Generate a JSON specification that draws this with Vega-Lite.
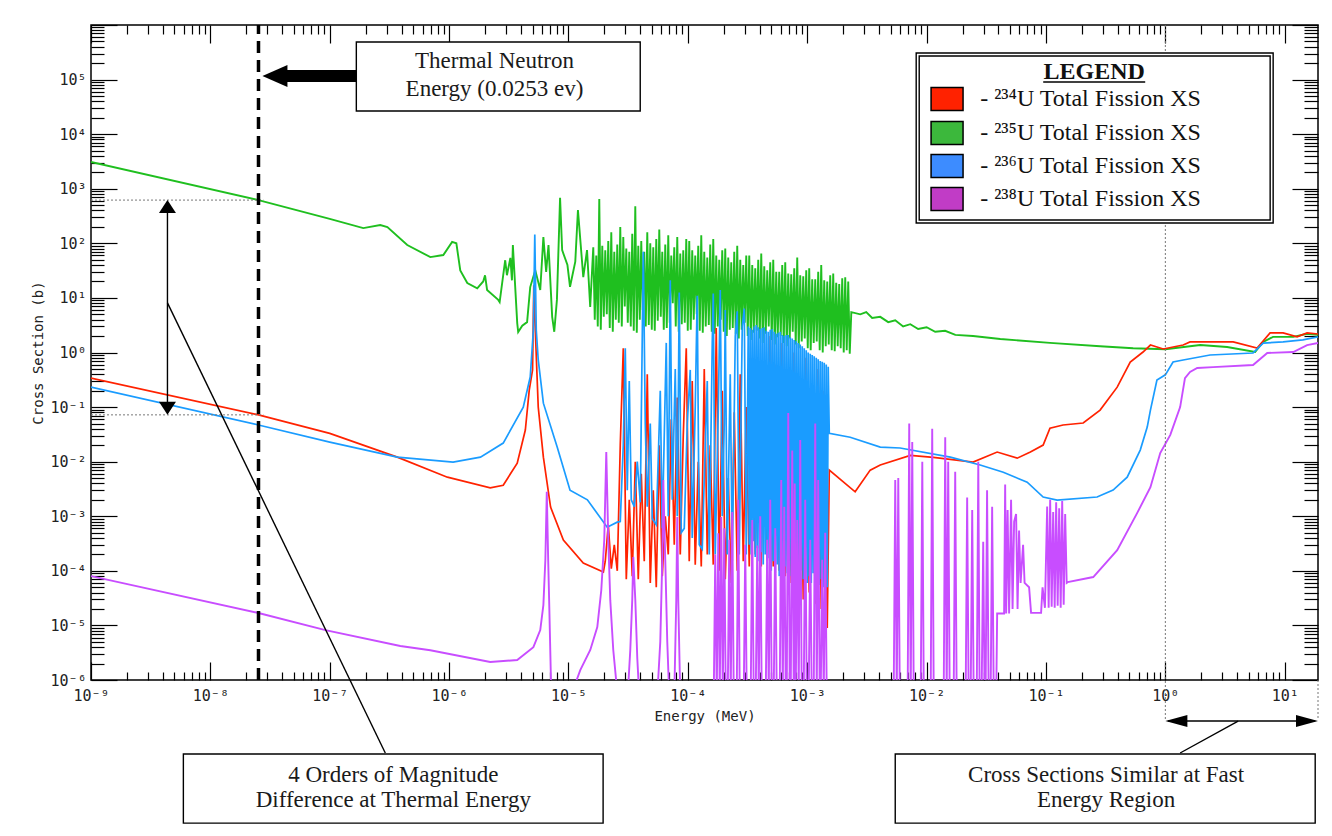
{
"$schema":"https://vega.github.io/schema/vega-lite/v6.json",
"width":1227,"height":655,
"autosize":{"type":"none"},
"padding":{"left":91,"top":25,"right":14,"bottom":156},
"background":"white",
"config":{
 "view":{"stroke":"black","strokeWidth":1.5},
 "axis":{"grid":false,"domain":false,"tickColor":"black","tickWidth":1.2,"labelFont":"DejaVu Sans Mono","labelFontSize":15,"labelColor":"#222","titleFont":"DejaVu Sans Mono","titleFontSize":14,"titleFontWeight":"normal","titleColor":"#222","labelOverlap":false,"labelFlush":false,"labelBound":false}
},
"datasets":{
"u235":[{"E":1e-9,"XS":3100},{"E":2.53e-8,"XS":620},{"E":1e-7,"XS":280},{"E":1.91e-7,"XS":190},{"E":2.65e-7,"XS":216},{"E":3.04e-7,"XS":199},{"E":4.46e-7,"XS":93},{"E":6.96e-7,"XS":56},{"E":8.94e-7,"XS":61},{"E":1.06e-6,"XS":106},{"E":1.15e-6,"XS":100},{"E":1.24e-6,"XS":32},{"E":1.42e-6,"XS":18.7},{"E":1.72e-6,"XS":15},{"E":1.93e-6,"XS":20},{"E":2.0e-6,"XS":26},{"E":2.08e-6,"XS":14},{"E":2.58e-6,"XS":9.2},{"E":2.65e-6,"XS":8.4},{"E":2.95e-6,"XS":49},{"E":3.05e-6,"XS":26},{"E":3.26e-6,"XS":54},{"E":3.36e-6,"XS":21},{"E":3.42e-6,"XS":93},{"E":3.72e-6,"XS":3.46},{"E":3.79e-6,"XS":2.37},{"E":4.1e-6,"XS":3.1},{"E":4.5e-6,"XS":3.6},{"E":4.78e-6,"XS":15.8},{"E":5.27e-6,"XS":32},{"E":5.8e-6,"XS":14},{"E":6.16e-6,"XS":130},{"E":6.5e-6,"XS":30},{"E":6.8e-6,"XS":93},{"E":7.3e-6,"XS":4.5},{"E":7.6e-6,"XS":2.4},{"E":8.0e-6,"XS":9.2},{"E":8.5e-6,"XS":680},{"E":8.85e-6,"XS":75},{"E":9.8e-6,"XS":40},{"E":1.03e-5,"XS":16},{"E":1.14e-5,"XS":46},{"E":1.2e-5,"XS":408},{"E":1.33e-5,"XS":24},{"E":1.43e-5,"XS":75},{"E":1.52e-5,"XS":6.8},
{"E":1.613e-5,"XS":85},{"E":1.66e-5,"XS":4},{"E":1.709e-5,"XS":60},{"E":1.759e-5,"XS":3},{"E":1.811e-5,"XS":650},{"E":1.864e-5,"XS":2.6},{"E":1.919e-5,"XS":90},{"E":1.975e-5,"XS":4.5},{"E":2.033e-5,"XS":75},{"E":2.093e-5,"XS":5},{"E":2.154e-5,"XS":110},{"E":2.217e-5,"XS":2.8},{"E":2.283e-5,"XS":160},{"E":2.35e-5,"XS":2.4},{"E":2.419e-5,"XS":70},{"E":2.49e-5,"XS":4},{"E":2.563e-5,"XS":95},{"E":2.638e-5,"XS":3.5},{"E":2.715e-5,"XS":200},{"E":2.795e-5,"XS":3},{"E":2.877e-5,"XS":130},{"E":2.961e-5,"XS":7},{"E":3.049e-5,"XS":80},{"E":3.138e-5,"XS":3.5},{"E":3.23e-5,"XS":70},{"E":3.325e-5,"XS":3},{"E":3.422e-5,"XS":150},{"E":3.522e-5,"XS":2.5},{"E":3.627e-5,"XS":480},{"E":3.733e-5,"XS":2.3},{"E":3.842e-5,"XS":90},{"E":3.955e-5,"XS":4},{"E":4.071e-5,"XS":110},{"E":4.19e-5,"XS":6},{"E":4.313e-5,"XS":70},{"E":4.439e-5,"XS":3},{"E":4.571e-5,"XS":160},{"E":4.705e-5,"XS":3.2},{"E":4.843e-5,"XS":100},{"E":4.985e-5,"XS":2.6},{"E":5.131e-5,"XS":85},{"E":5.281e-5,"XS":2.5},{"E":5.437e-5,"XS":120},{"E":5.596e-5,"XS":3.8},{"E":5.761e-5,"XS":180},{"E":5.93e-5,"XS":4.5},{"E":6.104e-5,"XS":70},{"E":6.283e-5,"XS":2.6},{"E":6.467e-5,"XS":95},{"E":6.656e-5,"XS":2.8},{"E":6.852e-5,"XS":140},{"E":7.053e-5,"XS":3.5},{"E":7.261e-5,"XS":60},{"E":7.474e-5,"XS":8},{"E":7.693e-5,"XS":85},{"E":7.918e-5,"XS":3},{"E":8.151e-5,"XS":130},{"E":8.39e-5,"XS":2.4},{"E":8.636e-5,"XS":65},{"E":8.889e-5,"XS":3.3},{"E":9.151e-5,"XS":75},{"E":9.419e-5,"XS":3.5},{"E":9.696e-5,"XS":120},{"E":9.98e-5,"XS":2.5},{"E":1.027e-4,"XS":110},{"E":1.057e-4,"XS":2.6},{"E":1.088e-4,"XS":75},{"E":1.12e-4,"XS":4},{"E":1.153e-4,"XS":60},{"E":1.187e-4,"XS":5},{"E":1.222e-4,"XS":90},{"E":1.258e-4,"XS":2.5},{"E":1.295e-4,"XS":140},{"E":1.333e-4,"XS":2.3},{"E":1.372e-4,"XS":70},{"E":1.412e-4,"XS":3},{"E":1.454e-4,"XS":55},{"E":1.497e-4,"XS":3.2},{"E":1.54e-4,"XS":95},{"E":1.585e-4,"XS":2.4},{"E":1.632e-4,"XS":120},{"E":1.68e-4,"XS":2.2},{"E":1.729e-4,"XS":60},{"E":1.78e-4,"XS":3},{"E":1.832e-4,"XS":50},{"E":1.886e-4,"XS":4},{"E":1.941e-4,"XS":75},{"E":1.998e-4,"XS":2.4},{"E":2.057e-4,"XS":80},{"E":2.117e-4,"XS":2},{"E":2.179e-4,"XS":55},{"E":2.243e-4,"XS":2.6},{"E":2.309e-4,"XS":45},{"E":2.377e-4,"XS":2.8},{"E":2.447e-4,"XS":70},{"E":2.519e-4,"XS":2.2},{"E":2.592e-4,"XS":90},{"E":2.668e-4,"XS":1.8},{"E":2.747e-4,"XS":50},{"E":2.827e-4,"XS":2.6},{"E":2.911e-4,"XS":40},{"E":2.996e-4,"XS":3.5},{"E":3.084e-4,"XS":60},{"E":3.174e-4,"XS":2},{"E":3.268e-4,"XS":60},{"E":3.364e-4,"XS":1.7},{"E":3.462e-4,"XS":40},{"E":3.563e-4,"XS":2.3},{"E":3.668e-4,"XS":35},{"E":3.776e-4,"XS":2.5},{"E":3.887e-4,"XS":50},{"E":4.001e-4,"XS":1.8},{"E":4.119e-4,"XS":65},{"E":4.24e-4,"XS":1.5},{"E":4.364e-4,"XS":38},{"E":4.492e-4,"XS":2.2},{"E":4.624e-4,"XS":32},{"E":4.759e-4,"XS":3},{"E":4.899e-4,"XS":45},{"E":5.042e-4,"XS":1.7},{"E":5.191e-4,"XS":50},{"E":5.343e-4,"XS":1.4},{"E":5.5e-4,"XS":30},{"E":5.661e-4,"XS":1.9},{"E":5.828e-4,"XS":30},{"E":5.999e-4,"XS":2},{"E":6.175e-4,"XS":40},{"E":6.356e-4,"XS":1.5},{"E":6.543e-4,"XS":45},{"E":6.735e-4,"XS":1.3},{"E":6.933e-4,"XS":28},{"E":7.136e-4,"XS":1.8},{"E":7.345e-4,"XS":27},{"E":7.56e-4,"XS":2.4},{"E":7.783e-4,"XS":35},{"E":8.011e-4,"XS":1.4},{"E":8.246e-4,"XS":55},{"E":8.488e-4,"XS":1.2},{"E":8.737e-4,"XS":26},{"E":8.993e-4,"XS":1.6},{"E":9.259e-4,"XS":25},{"E":9.53e-4,"XS":1.8},{"E":9.809e-4,"XS":32},{"E":1.01e-3,"XS":1.2},{"E":1.039e-3,"XS":35},{"E":1.069e-3,"XS":1.1},{"E":1.101e-3,"XS":22},{"E":1.133e-3,"XS":1.5},{"E":1.167e-3,"XS":22},{"E":1.201e-3,"XS":1.6},{"E":1.236e-3,"XS":30},{"E":1.272e-3,"XS":1.1},{"E":1.31e-3,"XS":40},{"E":1.348e-3,"XS":1.0},{"E":1.388e-3,"XS":21},{"E":1.429e-3,"XS":1.3},{"E":1.471e-3,"XS":20},{"E":1.514e-3,"XS":1.4},{"E":1.558e-3,"XS":26},{"E":1.604e-3,"XS":1.1},{"E":1.651e-3,"XS":28},{"E":1.699e-3,"XS":1.05},{"E":1.749e-3,"XS":19},{"E":1.8e-3,"XS":1.3},{"E":1.853e-3,"XS":18},{"E":1.907e-3,"XS":1.2},{"E":1.964e-3,"XS":23},{"E":2.022e-3,"XS":1.0},{"E":2.081e-3,"XS":24},{"E":2.142e-3,"XS":1.1},{"E":2.205e-3,"XS":20},{"E":2.27e-3,"XS":0.95},
{"E":2.34e-3,"XS":5.5},{"E":2.78e-3,"XS":5.0},{"E":3.12e-3,"XS":5.5},{"E":3.5e-3,"XS":4.3},{"E":4.09e-3,"XS":4.5},{"E":4.77e-3,"XS":3.6},{"E":5.46e-3,"XS":3.9},{"E":6.36e-3,"XS":3.0},{"E":7.3e-3,"XS":3.3},{"E":8.5e-3,"XS":2.7},{"E":1.0e-2,"XS":2.9},{"E":1.18e-2,"XS":2.4},{"E":1.43e-2,"XS":2.5},{"E":1.74e-2,"XS":2.1},{"E":2.45e-2,"XS":2.0},{"E":4.14e-2,"XS":1.77},{"E":0.108,"XS":1.5},{"E":0.284,"XS":1.3},{"E":0.537,"XS":1.2},{"E":1.0,"XS":1.15},{"E":1.96,"XS":1.37},{"E":3.29,"XS":1.26},{"E":5.65,"XS":1.02},{"E":6.6,"XS":1.56},{"E":7.98,"XS":1.93},{"E":11.8,"XS":1.93},{"E":15.4,"XS":2.2},{"E":19,"XS":2.1}],
"u234":[{"E":1e-9,"XS":0.34},{"E":2.53e-8,"XS":0.072},{"E":1e-7,"XS":0.033},{"E":3.68e-7,"XS":0.0121},{"E":9.67e-7,"XS":0.0052},{"E":2.21e-6,"XS":0.0033},{"E":2.84e-6,"XS":0.0037},{"E":3.72e-6,"XS":0.0094},{"E":4.35e-6,"XS":0.038},{"E":4.69e-6,"XS":0.205},{"E":5.0e-6,"XS":0.48},{"E":5.12e-6,"XS":17},{"E":5.27e-6,"XS":2.58},{"E":5.58e-6,"XS":0.1},{"E":6.16e-6,"XS":0.0121},{"E":7.08e-6,"XS":1.47e-3},{"E":9.06e-6,"XS":3.66e-4},{"E":1.33e-5,"XS":1.39e-4},{"E":1.96e-5,"XS":9.5e-5},
{"E":2.033e-5,"XS":1.5e-4},{"E":2.154e-5,"XS":7e-4},{"E":2.283e-5,"XS":1.1e-4},{"E":2.419e-5,"XS":3e-4},{"E":2.563e-5,"XS":1.0e-4},{"E":2.715e-5,"XS":0.02},{"E":2.877e-5,"XS":1.2},{"E":3.049e-5,"XS":7e-5},{"E":3.23e-5,"XS":2e-3},{"E":3.422e-5,"XS":8e-5},{"E":3.627e-5,"XS":1e-2},{"E":3.842e-5,"XS":7e-5},{"E":4.071e-5,"XS":6e-3},{"E":4.313e-5,"XS":1.5e-4},{"E":4.571e-5,"XS":0.4},{"E":4.843e-5,"XS":6e-5},{"E":5.131e-5,"XS":3e-3},{"E":5.437e-5,"XS":5e-5},{"E":5.761e-5,"XS":0.02},{"E":6.104e-5,"XS":8e-5},{"E":6.467e-5,"XS":1e-3},{"E":6.852e-5,"XS":2e-4},{"E":7.261e-5,"XS":0.06},{"E":7.693e-5,"XS":3e-4},{"E":8.151e-5,"XS":0.15},{"E":8.636e-5,"XS":2e-4},{"E":9.151e-5,"XS":0.03},{"E":9.696e-5,"XS":1.2},{"E":1.027e-4,"XS":1.5e-4},{"E":1.088e-4,"XS":0.3},{"E":1.153e-4,"XS":1.3e-4},{"E":1.222e-4,"XS":0.01},{"E":1.295e-4,"XS":1.2e-4},{"E":1.372e-4,"XS":0.5},{"E":1.454e-4,"XS":2e-4},{"E":1.54e-4,"XS":0.02},{"E":1.632e-4,"XS":1.3e-4},{"E":1.729e-4,"XS":2.8},{"E":1.832e-4,"XS":1e-4},{"E":1.941e-4,"XS":0.2},{"E":2.057e-4,"XS":7e-5},{"E":2.179e-4,"XS":0.005},{"E":2.309e-4,"XS":6e-5},{"E":2.447e-4,"XS":0.08},{"E":2.592e-4,"XS":1e-4},{"E":2.747e-4,"XS":0.4},{"E":2.911e-4,"XS":1.5e-4},{"E":3.084e-4,"XS":0.1},{"E":3.268e-4,"XS":1.2e-4},{"E":3.462e-4,"XS":0.8},{"E":3.668e-4,"XS":2e-4},{"E":3.887e-4,"XS":0.05},{"E":4.119e-4,"XS":1.2e-4},{"E":4.364e-4,"XS":0.3},{"E":4.624e-4,"XS":1.5e-4},{"E":4.899e-4,"XS":2.0},{"E":5.191e-4,"XS":1.2e-4},{"E":5.5e-4,"XS":0.6},{"E":5.828e-4,"XS":1e-4},{"E":6.175e-4,"XS":1.5},{"E":6.543e-4,"XS":8e-5},{"E":6.933e-4,"XS":0.3},{"E":7.345e-4,"XS":6e-5},{"E":7.783e-4,"XS":1.0},{"E":8.246e-4,"XS":5e-5},{"E":8.737e-4,"XS":0.2},{"E":9.259e-4,"XS":3e-5},{"E":9.809e-4,"XS":0.8},{"E":1.039e-3,"XS":4e-5},{"E":1.101e-3,"XS":0.1},{"E":1.167e-3,"XS":2.5e-5},{"E":1.236e-3,"XS":0.5},{"E":1.31e-3,"XS":2e-5},{"E":1.388e-3,"XS":0.2},{"E":1.471e-3,"XS":9e-6},
{"E":1.53e-3,"XS":7e-3},{"E":2.52e-3,"XS":2.8e-3},{"E":3.37e-3,"XS":7e-3},{"E":4.09e-3,"XS":8.7e-3},{"E":7.3e-3,"XS":0.013},{"E":1.14e-2,"XS":0.012},{"E":2.45e-2,"XS":0.0098},{"E":3.9e-2,"XS":0.015},{"E":5.74e-2,"XS":0.0116},{"E":7.4e-2,"XS":0.015},{"E":9.47e-2,"XS":0.0201},{"E":0.108,"XS":0.041},{"E":0.139,"XS":0.047},{"E":0.205,"XS":0.051},{"E":0.284,"XS":0.088},{"E":0.395,"XS":0.232},{"E":0.508,"XS":0.67},{"E":0.65,"XS":1.02},{"E":0.75,"XS":1.37},{"E":0.96,"XS":1.16},{"E":1.41,"XS":1.37},{"E":1.61,"XS":1.56},{"E":3.7,"XS":1.56},{"E":5.87,"XS":1.21},{"E":7.54,"XS":2.28},{"E":9.7,"XS":2.28},{"E":12.7,"XS":1.93},{"E":15.4,"XS":2.28},{"E":19,"XS":2.18}],
"u236":[{"E":1e-9,"XS":0.232},{"E":2.53e-8,"XS":0.047},{"E":1e-7,"XS":0.0228},{"E":3.68e-7,"XS":0.0121},{"E":1.08e-6,"XS":0.0098},{"E":1.83e-6,"XS":0.0121},{"E":2.84e-6,"XS":0.0219},{"E":4.18e-6,"XS":0.1},{"E":4.78e-6,"XS":0.355},{"E":5.08e-6,"XS":2.58},{"E":5.22e-6,"XS":145},{"E":5.37e-6,"XS":2.58},{"E":5.58e-6,"XS":0.73},{"E":6.16e-6,"XS":0.118},{"E":8.04e-6,"XS":0.0185},{"E":1.03e-5,"XS":3.0e-3},{"E":1.44e-5,"XS":2.0e-3},{"E":2.11e-5,"XS":6.3e-4},{"E":2.56e-5,"XS":7.8e-4},
{"E":2.715e-5,"XS":8e-4},{"E":2.877e-5,"XS":0.02},{"E":2.99e-5,"XS":1.2},{"E":3.108e-5,"XS":3e-3},{"E":3.23e-5,"XS":0.3},{"E":3.357e-5,"XS":2e-3},{"E":3.557e-5,"XS":1.5e-3},{"E":3.77e-5,"XS":0.01},{"E":3.994e-5,"XS":1.8e-3},{"E":4.232e-5,"XS":70},{"E":4.397e-5,"XS":0.05},{"E":4.571e-5,"XS":1.5e-3},{"E":4.843e-5,"XS":0.05},{"E":5.033e-5,"XS":9e-4},{"E":5.437e-5,"XS":7e-4},{"E":5.873e-5,"XS":0.2},{"E":6.104e-5,"XS":6e-4},{"E":6.593e-5,"XS":1.5},{"E":6.852e-5,"XS":1e-3},{"E":7.122e-5,"XS":21},{"E":7.403e-5,"XS":2e-3},{"E":7.843e-5,"XS":0.5},{"E":8.151e-5,"XS":1e-3},{"E":8.472e-5,"XS":12.5},{"E":8.804e-5,"XS":5e-4},{"E":9.329e-5,"XS":6e-4},{"E":9.885e-5,"XS":0.05},{"E":1.047e-4,"XS":0.48},{"E":1.088e-4,"XS":4e-4},{"E":1.153e-4,"XS":0.1},{"E":1.198e-4,"XS":11},{"E":1.246e-4,"XS":3e-4},{"E":1.32e-4,"XS":2.5e-4},{"E":1.399e-4,"XS":0.02},{"E":1.454e-4,"XS":0.3},{"E":1.511e-4,"XS":2e-4},{"E":1.601e-4,"XS":1.5},{"E":1.632e-4,"XS":12},{"E":1.696e-4,"XS":2e-4},{"E":1.797e-4,"XS":0.08},{"E":1.868e-4,"XS":14},{"E":1.941e-4,"XS":1e-3},{"E":2.018e-4,"XS":0.05},{"E":2.057e-4,"XS":6},{"E":2.137e-4,"XS":2e-4},{"E":2.265e-4,"XS":0.4},{"E":2.354e-4,"XS":1.5e-4},{"E":2.495e-4,"XS":2},{"E":2.592e-4,"XS":5.7},{"E":2.694e-4,"XS":2e-4},{"E":2.855e-4,"XS":3},{"E":2.968e-4,"XS":6.4},{"E":3.084e-4,"XS":2e-4},
{"E":3.206e-4,"XS":3.0},{"E":3.268e-4,"XS":3e-4},{"E":3.332e-4,"XS":2.8},{"E":3.397e-4,"XS":2e-4},{"E":3.462e-4,"XS":2.6},{"E":3.53e-4,"XS":3.5e-4},{"E":3.598e-4,"XS":3.0},{"E":3.668e-4,"XS":1.8e-4},{"E":3.74e-4,"XS":3.2},{"E":3.813e-4,"XS":2.6e-4},{"E":3.887e-4,"XS":2.9},{"E":3.963e-4,"XS":1.5e-4},{"E":4.04e-4,"XS":2.7},{"E":4.119e-4,"XS":2.2e-4},{"E":4.199e-4,"XS":2.8},{"E":4.281e-4,"XS":1.3e-4},{"E":4.364e-4,"XS":2.9},{"E":4.449e-4,"XS":2e-4},{"E":4.535e-4,"XS":2.5},{"E":4.624e-4,"XS":1.1e-4},{"E":4.714e-4,"XS":2.4},{"E":4.806e-4,"XS":1.7e-4},{"E":4.899e-4,"XS":2.6},{"E":4.995e-4,"XS":1e-4},{"E":5.092e-4,"XS":2.7},{"E":5.191e-4,"XS":1.5e-4},{"E":5.292e-4,"XS":2.4},{"E":5.395e-4,"XS":9e-5},{"E":5.5e-4,"XS":2.2},{"E":5.607e-4,"XS":1.3e-4},{"E":5.716e-4,"XS":2.3},{"E":5.828e-4,"XS":8e-5},{"E":5.941e-4,"XS":2.4},{"E":6.057e-4,"XS":1.1e-4},{"E":6.175e-4,"XS":2.1},{"E":6.295e-4,"XS":7e-5},{"E":6.417e-4,"XS":2.0},{"E":6.543e-4,"XS":1.2e-4},{"E":6.67e-4,"XS":2.1},{"E":6.8e-4,"XS":9e-5},{"E":6.933e-4,"XS":2.1},{"E":7.068e-4,"XS":1.3e-4},{"E":7.205e-4,"XS":1.9},{"E":7.345e-4,"XS":8e-5},{"E":7.488e-4,"XS":1.8},{"E":7.634e-4,"XS":1e-4},{"E":7.783e-4,"XS":1.7},{"E":7.935e-4,"XS":7e-5},{"E":8.089e-4,"XS":1.6},{"E":8.246e-4,"XS":1.1e-4},{"E":8.407e-4,"XS":1.5},{"E":8.571e-4,"XS":8e-5},{"E":8.737e-4,"XS":1.4},{"E":8.907e-4,"XS":1e-4},{"E":9.081e-4,"XS":1.3},{"E":9.259e-4,"XS":7e-5},{"E":9.438e-4,"XS":1.2},{"E":9.622e-4,"XS":9e-5},{"E":9.809e-4,"XS":1.1},{"E":1.0e-3,"XS":6e-5},{"E":1.019e-3,"XS":1.0},{"E":1.039e-3,"XS":8e-5},{"E":1.06e-3,"XS":0.95},{"E":1.081e-3,"XS":6e-5},{"E":1.101e-3,"XS":0.9},{"E":1.122e-3,"XS":9e-5},{"E":1.144e-3,"XS":0.85},{"E":1.167e-3,"XS":6e-5},{"E":1.19e-3,"XS":0.8},{"E":1.213e-3,"XS":8e-5},{"E":1.236e-3,"XS":0.75},{"E":1.26e-3,"XS":5.5e-5},{"E":1.285e-3,"XS":0.7},{"E":1.31e-3,"XS":7e-5},{"E":1.335e-3,"XS":0.68},{"E":1.361e-3,"XS":5e-5},{"E":1.388e-3,"XS":0.65},{"E":1.415e-3,"XS":6e-5},{"E":1.443e-3,"XS":0.6},{"E":1.471e-3,"XS":5e-5},{"E":1.499e-3,"XS":0.55},
{"E":1.53e-3,"XS":0.033},{"E":2.29e-3,"XS":0.028},{"E":4.09e-3,"XS":0.0185},{"E":6.0e-3,"XS":0.0178},{"E":1.58e-2,"XS":0.0121},{"E":2.81e-2,"XS":8.7e-3},{"E":4.39e-2,"XS":6.4e-3},{"E":6.96e-2,"XS":4.2e-3},{"E":9.47e-2,"XS":2.25e-3},{"E":0.124,"XS":1.98e-3},{"E":0.268,"XS":2.25e-3},{"E":0.365,"XS":3.02e-3},{"E":0.479,"XS":5.2e-3},{"E":0.616,"XS":0.0163},{"E":0.705,"XS":0.043},{"E":0.75,"XS":0.088},{"E":0.85,"XS":0.312},{"E":1.0,"XS":0.39},{"E":1.16,"XS":0.67},{"E":1.41,"XS":0.73},{"E":2.37,"XS":0.9},{"E":5.43,"XS":0.98},{"E":6.6,"XS":1.49},{"E":9.7,"XS":1.56},{"E":14.2,"XS":1.7},{"E":19,"XS":1.93}],
"u238":[{"E":1e-9,"XS":8.0e-5},{"E":2.53e-8,"XS":1.69e-5},{"E":9.2e-8,"XS":8.2e-6},{"E":3.9e-7,"XS":4.2e-6},{"E":6.96e-7,"XS":3.5e-6},{"E":2.21e-6,"XS":2.14e-6},{"E":3.72e-6,"XS":2.32e-6},{"E":5.08e-6,"XS":4.0e-6},{"E":5.8e-6,"XS":8.2e-6},{"E":6.16e-6,"XS":2.36e-5},{"E":6.4e-6,"XS":1.58e-4},{"E":6.58e-6,"XS":2.8e-3},{"E":6.76e-6,"XS":1.58e-4},{"E":6.9e-6,"XS":2.36e-5},{"E":7.18e-6,"XS":5e-7},
{"E":1.076e-5,"XS":6e-7},{"E":1.255e-5,"XS":1.52e-6},{"E":1.522e-5,"XS":3.55e-6},{"E":1.743e-5,"XS":9.3e-6},{"E":1.883e-5,"XS":4.45e-5},{"E":1.994e-5,"XS":3.7e-4},{"E":2.073e-5,"XS":0.015},{"E":2.154e-5,"XS":3.7e-4},{"E":2.239e-5,"XS":2.9e-5},{"E":2.372e-5,"XS":3.55e-6},{"E":2.563e-5,"XS":6e-7},{"E":3.168e-5,"XS":8e-7},{"E":3.293e-5,"XS":3.55e-6},{"E":3.422e-5,"XS":3e-5},{"E":3.489e-5,"XS":1.8e-4},{"E":3.627e-5,"XS":3e-5},{"E":3.77e-5,"XS":2.5e-6},{"E":3.917e-5,"XS":5e-7},{"E":5.54e-5,"XS":5e-7},{"E":5.873e-5,"XS":5e-6},{"E":6.104e-5,"XS":1.6e-4},{"E":6.223e-5,"XS":4.6e-3},{"E":6.467e-5,"XS":1.6e-4},{"E":6.722e-5,"XS":5e-6},{"E":6.987e-5,"XS":5e-7},{"E":7.693e-5,"XS":5e-7},{"E":7.995e-5,"XS":2.9e-5},{"E":8.151e-5,"XS":9.7e-4},{"E":8.31e-5,"XS":2.9e-5},{"E":8.636e-5,"XS":5e-7},{"E":1.648e-4,"XS":5e-7},{"E":1.696e-4,"XS":2e-4},{"E":1.746e-4,"XS":5e-7},{"E":1.798e-4,"XS":4.9e-4},{"E":1.85e-4,"XS":5e-7},{"E":1.904e-4,"XS":9.7e-4},{"E":1.961e-4,"XS":5e-7},{"E":2.018e-4,"XS":6e-4},{"E":2.077e-4,"XS":5e-7},{"E":2.159e-4,"XS":5e-7},{"E":2.222e-4,"XS":3.7e-4},{"E":2.287e-4,"XS":5e-7},{"E":2.354e-4,"XS":1.2e-3},{"E":2.424e-4,"XS":5e-7},{"E":2.568e-4,"XS":5e-7},{"E":2.643e-4,"XS":2e-3},{"E":2.72e-4,"XS":5e-7},{"E":2.939e-4,"XS":5e-7},{"E":3.025e-4,"XS":3e-4},{"E":3.113e-4,"XS":5e-7},{"E":3.363e-4,"XS":5e-7},{"E":3.462e-4,"XS":8.5e-4},{"E":3.563e-4,"XS":5e-7},{"E":3.704e-4,"XS":5e-7},{"E":3.813e-4,"XS":2.9e-4},{"E":3.925e-4,"XS":5e-7},{"E":4.04e-4,"XS":1e-3},{"E":4.157e-4,"XS":5e-7},{"E":4.493e-4,"XS":5e-7},{"E":4.624e-4,"XS":3.7e-4},{"E":4.76e-4,"XS":5e-7},{"E":4.899e-4,"XS":2e-3},{"E":5.042e-4,"XS":5e-7},{"E":5.241e-4,"XS":5e-7},{"E":5.395e-4,"XS":6e-4},{"E":5.554e-4,"XS":5e-7},{"E":5.885e-4,"XS":5e-7},{"E":6.057e-4,"XS":4.6e-3},{"E":6.234e-4,"XS":5e-7},{"E":6.417e-4,"XS":1.5e-3},{"E":6.607e-4,"XS":5e-7},{"E":6.735e-4,"XS":5e-7},{"E":6.933e-4,"XS":0.078},{"E":7.136e-4,"XS":5e-7},{"E":7.275e-4,"XS":5e-7},{"E":7.488e-4,"XS":0.016},{"E":7.708e-4,"XS":5e-7},{"E":7.858e-4,"XS":4e-3},{"E":8.012e-4,"XS":5e-7},{"E":8.246e-4,"XS":8.5e-4},{"E":8.488e-4,"XS":5e-7},{"E":8.737e-4,"XS":0.025},{"E":8.99e-4,"XS":5e-7},{"E":9.348e-4,"XS":5e-7},{"E":9.622e-4,"XS":2e-3},{"E":9.904e-4,"XS":5e-7},{"E":1.029e-3,"XS":5e-7},{"E":1.06e-3,"XS":3.7e-4},{"E":1.091e-3,"XS":5e-7},{"E":1.134e-3,"XS":5e-7},{"E":1.167e-3,"XS":0.05},{"E":1.201e-3,"XS":5e-7},{"E":1.236e-3,"XS":4.6e-3},{"E":1.272e-3,"XS":5e-7},{"E":1.297e-3,"XS":5e-7},{"E":1.335e-3,"XS":1.6e-4},{"E":1.375e-3,"XS":5e-7},{"E":1.415e-3,"XS":5e-4},{"E":1.457e-3,"XS":5e-7},
{"E":5.3e-3,"XS":5e-7},{"E":5.46e-3,"XS":4.6e-3},{"E":5.62e-3,"XS":5e-7},{"E":5.79e-3,"XS":5e-3},{"E":5.96e-3,"XS":5e-7},{"E":6.94e-3,"XS":5e-7},{"E":7.15e-3,"XS":0.05},{"E":7.36e-3,"XS":5e-7},{"E":7.58e-3,"XS":0.023},{"E":7.8e-3,"XS":5e-7},{"E":8.93e-3,"XS":5e-7},{"E":9.2e-3,"XS":0.01},{"E":9.47e-3,"XS":5e-7},{"E":1.082e-2,"XS":5e-7},{"E":1.114e-2,"XS":0.04},{"E":1.147e-2,"XS":5e-7},{"E":1.391e-2,"XS":5e-7},{"E":1.432e-2,"XS":0.028},{"E":1.473e-2,"XS":5e-7},{"E":1.517e-2,"XS":0.01},{"E":1.561e-2,"XS":5e-7},{"E":1.686e-2,"XS":5e-7},{"E":1.736e-2,"XS":6.5e-3},{"E":1.786e-2,"XS":5e-7},{"E":2.124e-2,"XS":5e-7},{"E":2.186e-2,"XS":2.2e-3},{"E":2.25e-2,"XS":5e-7},{"E":2.34e-2,"XS":5e-7},{"E":2.41e-2,"XS":1.3e-3},{"E":2.48e-2,"XS":5e-7},{"E":2.63e-2,"XS":5e-7},{"E":2.71e-2,"XS":0.01},{"E":2.78e-2,"XS":5e-7},{"E":2.89e-2,"XS":5e-7},{"E":2.98e-2,"XS":3.4e-4},{"E":3.06e-2,"XS":5e-7},{"E":3.12e-2,"XS":5e-7},{"E":3.21e-2,"XS":3e-3},{"E":3.31e-2,"XS":5e-7},{"E":3.44e-2,"XS":5e-7},{"E":3.54e-2,"XS":1.5e-3},{"E":3.65e-2,"XS":5e-7},{"E":3.83e-2,"XS":5e-7},{"E":3.9e-2,"XS":1.65e-5},{"E":4.46e-2,"XS":1.65e-5},{"E":4.55e-2,"XS":3.8e-3},{"E":4.64e-2,"XS":1.65e-5},{"E":4.77e-2,"XS":1.3e-3},{"E":4.91e-2,"XS":1.65e-5},{"E":5.1e-2,"XS":2e-3},{"E":5.25e-2,"XS":2e-5},{"E":5.41e-2,"XS":8e-4},{"E":5.62e-2,"XS":1.1e-3},{"E":5.78e-2,"XS":2e-5},{"E":5.95e-2,"XS":5.5e-4},{"E":6.13e-2,"XS":6e-5},{"E":6.43e-2,"XS":3e-4},{"E":6.62e-2,"XS":6e-5},{"E":7.22e-2,"XS":5e-5},{"E":7.5e-2,"XS":1.7e-5},{"E":9.1e-2,"XS":1.7e-5},{"E":9.36e-2,"XS":5e-5},{"E":9.8e-2,"XS":2.1e-5},{"E":0.1023,"XS":1.5e-3},{"E":0.1053,"XS":2.1e-5},{"E":0.1084,"XS":2.0e-3},{"E":0.1116,"XS":2.2e-5},{"E":0.1149,"XS":1.2e-3},{"E":0.1183,"XS":2.1e-5},{"E":0.1217,"XS":1.8e-3},{"E":0.1253,"XS":2.3e-5},{"E":0.129,"XS":1.4e-3},{"E":0.1328,"XS":2.1e-5},{"E":0.1367,"XS":1.9e-3},{"E":0.1407,"XS":2.4e-5},{"E":0.1448,"XS":1.1e-3},{"E":0.1491,"XS":6e-5},{"E":0.152,"XS":6.2e-5},{"E":0.249,"XS":7.7e-5},{"E":0.395,"XS":2.4e-4},{"E":0.58,"XS":1.14e-3},{"E":0.75,"XS":3.4e-3},{"E":0.906,"XS":0.0144},{"E":1.1,"XS":0.031},{"E":1.33,"XS":0.1},{"E":1.46,"XS":0.34},{"E":1.61,"XS":0.44},{"E":1.85,"XS":0.52},{"E":2.51,"XS":0.54},{"E":5.43,"XS":0.59},{"E":7.14,"XS":0.98},{"E":11.8,"XS":1.02},{"E":15.4,"XS":1.37},{"E":19,"XS":1.49}]
},
"resolve":{"axis":{"x":"independent","y":"independent"}},
"layer":[
{"data":{"name":"u235"},"mark":{"type":"line","clip":true,"strokeWidth":1.9},
 "encoding":{
  "x":{"field":"E","type":"quantitative","scale":{"type":"log","domain":[1e-9,19],"nice":false},
   "axis":{"orient":"bottom","values":[1e-9,2e-9,3e-9,4e-9,5e-9,6e-9,7e-9,8e-9,9e-9,1e-8,2e-8,3e-8,4e-8,5e-8,6e-8,7e-8,8e-8,9e-8,1e-7,2e-7,3e-7,4e-7,5e-7,6e-7,7e-7,8e-7,9e-7,1e-6,2e-6,3e-6,4e-6,5e-6,6e-6,7e-6,8e-6,9e-6,1e-5,2e-5,3e-5,4e-5,5e-5,6e-5,7e-5,8e-5,9e-5,1e-4,2e-4,3e-4,4e-4,5e-4,6e-4,7e-4,8e-4,9e-4,1e-3,2e-3,3e-3,4e-3,5e-3,6e-3,7e-3,8e-3,9e-3,0.01,0.02,0.03,0.04,0.05,0.06,0.07,0.08,0.09,0.1,0.2,0.3,0.4,0.5,0.6,0.7,0.8,0.9,1,2,3,4,5,6,7,8,9,10],
    "labelExpr":"abs(log(datum.value)/LN10-round(log(datum.value)/LN10))<0.02 ? '10'+(round(log(datum.value)/LN10)<0?'⁻':'')+['⁰','¹','²','³','⁴','⁵','⁶','⁷','⁸','⁹'][abs(round(log(datum.value)/LN10))] : ''",
    "tickSize":{"condition":{"test":"abs(log(datum.value)/LN10-round(log(datum.value)/LN10))<0.02","value":-18},"value":-8},
    "labelPadding":26,"title":"Energy (MeV)","titlePadding":-4}},
  "y":{"field":"XS","type":"quantitative","scale":{"type":"log","domain":[1e-6,1e6],"nice":false},
   "axis":{"orient":"left","values":[1e-6,2e-6,3e-6,4e-6,5e-6,6e-6,7e-6,8e-6,9e-6,1e-5,2e-5,3e-5,4e-5,5e-5,6e-5,7e-5,8e-5,9e-5,1e-4,2e-4,3e-4,4e-4,5e-4,6e-4,7e-4,8e-4,9e-4,1e-3,2e-3,3e-3,4e-3,5e-3,6e-3,7e-3,8e-3,9e-3,0.01,0.02,0.03,0.04,0.05,0.06,0.07,0.08,0.09,0.1,0.2,0.3,0.4,0.5,0.6,0.7,0.8,0.9,1,2,3,4,5,6,7,8,9,10,20,30,40,50,60,70,80,90,100,200,300,400,500,600,700,800,900,1000,2000,3000,4000,5000,6000,7000,8000,9000,10000,20000,30000,40000,50000,60000,70000,80000,90000,100000,200000,300000,400000,500000,600000,700000,800000,900000,1000000],
    "labelExpr":"abs(log(datum.value)/LN10-round(log(datum.value)/LN10))<0.02 && round(log(datum.value)/LN10)<6 ? '10'+(round(log(datum.value)/LN10)<0?'⁻':'')+['⁰','¹','²','³','⁴','⁵','⁶','⁷','⁸','⁹'][abs(round(log(datum.value)/LN10))] : ''",
    "tickSize":{"condition":{"test":"abs(log(datum.value)/LN10-round(log(datum.value)/LN10))<0.02","value":-26},"value":-13},
    "labelPadding":31,"title":"Cross Section (b)","titlePadding":4}},
  "color":{"datum":"²³⁵U","type":"nominal","scale":{"domain":["²³⁴U","²³⁵U","²³⁶U","²³⁸U"],"range":["#ff2200","#1fbf1f","#1a9cff","#c84dff"]},"legend":null}
 }},
{"data":{"name":"u234"},"mark":{"type":"line","clip":true,"strokeWidth":1.7},
 "encoding":{
  "x":{"field":"E","type":"quantitative","scale":{"type":"log","domain":[1e-9,19],"nice":false},
   "axis":{"orient":"top","values":[1e-9,2e-9,3e-9,4e-9,5e-9,6e-9,7e-9,8e-9,9e-9,1e-8,2e-8,3e-8,4e-8,5e-8,6e-8,7e-8,8e-8,9e-8,1e-7,2e-7,3e-7,4e-7,5e-7,6e-7,7e-7,8e-7,9e-7,1e-6,2e-6,3e-6,4e-6,5e-6,6e-6,7e-6,8e-6,9e-6,1e-5,2e-5,3e-5,4e-5,5e-5,6e-5,7e-5,8e-5,9e-5,1e-4,2e-4,3e-4,4e-4,5e-4,6e-4,7e-4,8e-4,9e-4,1e-3,2e-3,3e-3,4e-3,5e-3,6e-3,7e-3,8e-3,9e-3,0.01,0.02,0.03,0.04,0.05,0.06,0.07,0.08,0.09,0.1,0.2,0.3,0.4,0.5,0.6,0.7,0.8,0.9,1,2,3,4,5,6,7,8,9,10],
    "labels":false,"title":null,
    "tickSize":{"condition":{"test":"abs(log(datum.value)/LN10-round(log(datum.value)/LN10))<0.02","value":-18},"value":-9}}},
  "y":{"field":"XS","type":"quantitative","scale":{"type":"log","domain":[1e-6,1e6],"nice":false},
   "axis":{"orient":"right","values":[1e-6,2e-6,3e-6,4e-6,5e-6,6e-6,7e-6,8e-6,9e-6,1e-5,2e-5,3e-5,4e-5,5e-5,6e-5,7e-5,8e-5,9e-5,1e-4,2e-4,3e-4,4e-4,5e-4,6e-4,7e-4,8e-4,9e-4,1e-3,2e-3,3e-3,4e-3,5e-3,6e-3,7e-3,8e-3,9e-3,0.01,0.02,0.03,0.04,0.05,0.06,0.07,0.08,0.09,0.1,0.2,0.3,0.4,0.5,0.6,0.7,0.8,0.9,1,2,3,4,5,6,7,8,9,10,20,30,40,50,60,70,80,90,100,200,300,400,500,600,700,800,900,1000,2000,3000,4000,5000,6000,7000,8000,9000,10000,20000,30000,40000,50000,60000,70000,80000,90000,100000,200000,300000,400000,500000,600000,700000,800000,900000,1000000],
    "labels":false,"title":null,
    "tickSize":{"condition":{"test":"abs(log(datum.value)/LN10-round(log(datum.value)/LN10))<0.02","value":-26},"value":-14}}},
  "color":{"datum":"²³⁴U","type":"nominal","legend":null}
 }},
{"data":{"name":"u236"},"mark":{"type":"line","clip":true,"strokeWidth":1.7},
 "encoding":{
  "x":{"field":"E","type":"quantitative","scale":{"type":"log","domain":[1e-9,19],"nice":false},"axis":null},
  "y":{"field":"XS","type":"quantitative","scale":{"type":"log","domain":[1e-6,1e6],"nice":false},"axis":null},
  "color":{"datum":"²³⁶U","type":"nominal","legend":null}
 }},
{"data":{"name":"u238"},"mark":{"type":"line","clip":true,"strokeWidth":1.9},
 "encoding":{
  "x":{"field":"E","type":"quantitative","scale":{"type":"log","domain":[1e-9,19],"nice":false},"axis":null},
  "y":{"field":"XS","type":"quantitative","scale":{"type":"log","domain":[1e-6,1e6],"nice":false},"axis":null},
  "color":{"datum":"²³⁸U","type":"nominal","legend":null}
 }},
{"data":{"values":[{"x":1e-9,"x2":2.78e-8,"y":620,"y2":620},{"x":1e-9,"x2":2.78e-8,"y":0.072,"y2":0.072},{"x":1,"x2":1,"y":1e6,"y2":1.85e-7},{"x":19,"x2":19,"y":1e-6,"y2":1.85e-7}]},
 "mark":{"type":"rule","color":"#777","strokeWidth":1,"strokeDash":[2,2]},
 "encoding":{
  "x":{"field":"x","type":"quantitative","scale":{"type":"log","domain":[1e-9,19],"nice":false},"axis":null},
  "x2":{"field":"x2"},
  "y":{"field":"y","type":"quantitative","scale":{"type":"log","domain":[1e-6,1e6],"nice":false},"axis":null},
  "y2":{"field":"y2"}
 }},
{"data":{"values":[{"E":2.53e-8,"lo":1e-6,"hi":1e6}]},
 "mark":{"type":"rule","color":"black","strokeWidth":3.5,"strokeDash":[12,7]},
 "encoding":{
  "x":{"field":"E","type":"quantitative","scale":{"type":"log","domain":[1e-9,19],"nice":false},"axis":null},
  "y":{"field":"lo","type":"quantitative","scale":{"type":"log","domain":[1e-6,1e6],"nice":false},"axis":null},
  "y2":{"field":"hi"}
 }},
{"data":{"values":[{"x":4.37e-9,"x2":4.37e-9,"y":560,"y2":0.08},{"x":4.37e-9,"x2":2.92e-7,"y":8.1,"y2":4.6e-8},{"x":1.05,"x2":18,"y":1.77e-7,"y2":1.77e-7},{"x":4.07,"x2":1.33,"y":1.77e-7,"y2":4.6e-8}]},
 "mark":{"type":"rule","color":"black","strokeWidth":1.4},
 "encoding":{
  "x":{"field":"x","type":"quantitative","scale":{"type":"log","domain":[1e-9,19],"nice":false},"axis":null},
  "x2":{"field":"x2"},
  "y":{"field":"y","type":"quantitative","scale":{"type":"log","domain":[1e-6,1e6],"nice":false},"axis":null},
  "y2":{"field":"y2"}
 }},
{"data":{"values":[{"x":4.2e-8,"x2":1.67e-7,"y":1.16e5,"y2":1.16e5}]},
 "mark":{"type":"rule","color":"black","strokeWidth":12},
 "encoding":{
  "x":{"field":"x","type":"quantitative","scale":{"type":"log","domain":[1e-9,19],"nice":false},"axis":null},
  "x2":{"field":"x2"},
  "y":{"field":"y","type":"quantitative","scale":{"type":"log","domain":[1e-6,1e6],"nice":false},"axis":null},
  "y2":{"field":"y2"}
 }},
{"data":{"values":[{"x":2.73e-8,"y":1.16e5}]},
 "mark":{"type":"point","shape":"M0,0L2.5,-1.1L2.5,1.1Z","size":400,"filled":true,"color":"black","opacity":1},
 "encoding":{
  "x":{"field":"x","type":"quantitative","scale":{"type":"log","domain":[1e-9,19],"nice":false},"axis":null},
  "y":{"field":"y","type":"quantitative","scale":{"type":"log","domain":[1e-6,1e6],"nice":false},"axis":null}
 }},
{"data":{"values":[{"x":4.37e-9,"y":620,"dir":"up"},{"x":4.37e-9,"y":0.072,"dir":"down"},{"x":1,"y":1.77e-7,"dir":"left"},{"x":19,"y":1.77e-7,"dir":"right"}]},
 "mark":{"type":"point","size":400,"filled":true,"color":"black","opacity":1},
 "encoding":{
  "x":{"field":"x","type":"quantitative","scale":{"type":"log","domain":[1e-9,19],"nice":false},"axis":null},
  "y":{"field":"y","type":"quantitative","scale":{"type":"log","domain":[1e-6,1e6],"nice":false},"axis":null},
  "shape":{"field":"dir","type":"nominal","scale":{"domain":["up","down","left","right"],"range":["M0,0L-0.85,1.3L0.85,1.3Z","M0,0L-0.85,-1.3L0.85,-1.3Z","M0,0L2.2,-0.6L2.2,0.6Z","M0,0L-2.2,-0.6L-2.2,0.6Z"]},"legend":null}
 }},
{"data":{"values":[{"x":1.67e-7,"x2":3.99e-5,"y":4.89e5,"y2":2.65e4},{"x":5.94e-9,"x2":1.95e-5,"y":4.4e-8,"y2":2.39e-9},{"x":5.46e-3,"x2":18,"y":4.4e-8,"y2":2.39e-9},{"x":8.18e-3,"x2":8.0,"y":3.07e5,"y2":236},{"x":8.67e-3,"x2":7.55,"y":2.71e5,"y2":267}]},
 "mark":{"type":"rect","fill":"white","stroke":"black","strokeWidth":1.4},
 "encoding":{
  "x":{"field":"x","type":"quantitative","scale":{"type":"log","domain":[1e-9,19],"nice":false},"axis":null},
  "x2":{"field":"x2"},
  "y":{"field":"y","type":"quantitative","scale":{"type":"log","domain":[1e-6,1e6],"nice":false},"axis":null},
  "y2":{"field":"y2"}
 }},
{"data":{"values":[{"x":0.0948,"x2":0.678,"y":9.04e4,"y2":9.04e4}]},
 "mark":{"type":"rule","color":"black","strokeWidth":1.5},
 "encoding":{
  "x":{"field":"x","type":"quantitative","scale":{"type":"log","domain":[1e-9,19],"nice":false},"axis":null},
  "x2":{"field":"x2"},
  "y":{"field":"y","type":"quantitative","scale":{"type":"log","domain":[1e-6,1e6],"nice":false},"axis":null},
  "y2":{"field":"y2"}
 }},
{"data":{"values":[{"iso":"²³⁴U","x":1.09e-2,"x2":2.02e-2,"y":7.16e4,"y2":2.71e4},{"iso":"²³⁵U","x":1.09e-2,"x2":2.02e-2,"y":1.71e4,"y2":6.47e3},{"iso":"²³⁶U","x":1.09e-2,"x2":2.02e-2,"y":4.24e3,"y2":1.61e3},{"iso":"²³⁸U","x":1.09e-2,"x2":2.02e-2,"y":1.05e3,"y2":399}]},
 "mark":{"type":"rect","stroke":"black","strokeWidth":1.5,"opacity":1},
 "encoding":{
  "x":{"field":"x","type":"quantitative","scale":{"type":"log","domain":[1e-9,19],"nice":false},"axis":null},
  "x2":{"field":"x2"},
  "y":{"field":"y","type":"quantitative","scale":{"type":"log","domain":[1e-6,1e6],"nice":false},"axis":null},
  "y2":{"field":"y2"},
  "fill":{"field":"iso","type":"nominal","scale":{"domain":["²³⁴U","²³⁵U","²³⁶U","²³⁸U"],"range":["#ff2200","#3cb83c","#3d8cff","#c13cc6"]},"legend":null}
 }},
{"data":{"values":[{"x":2.81e-2,"y":4.4e4,"t":"- ²³⁴U Total Fission  XS"},{"x":2.81e-2,"y":1.05e4,"t":"- ²³⁵U Total Fission  XS"},{"x":2.81e-2,"y":2.61e3,"t":"- ²³⁶U Total Fission  XS"},{"x":2.81e-2,"y":649,"t":"- ²³⁸U Total Fission  XS"}]},
 "mark":{"type":"text","font":"Liberation Serif","fontSize":24,"color":"#111","align":"left","baseline":"middle"},
 "encoding":{
  "x":{"field":"x","type":"quantitative","scale":{"type":"log","domain":[1e-9,19],"nice":false},"axis":null},
  "y":{"field":"y","type":"quantitative","scale":{"type":"log","domain":[1e-6,1e6],"nice":false},"axis":null},
  "text":{"field":"t"}
 }},
{"data":{"values":[{"x":0.2535,"y":1.38e5,"t":"LEGEND"}]},
 "mark":{"type":"text","font":"Liberation Serif","fontSize":24,"fontWeight":"bold","color":"#111","align":"center","baseline":"middle"},
 "encoding":{
  "x":{"field":"x","type":"quantitative","scale":{"type":"log","domain":[1e-9,19],"nice":false},"axis":null},
  "y":{"field":"y","type":"quantitative","scale":{"type":"log","domain":[1e-6,1e6],"nice":false},"axis":null},
  "text":{"field":"t"}
 }},
{"data":{"values":[{"x":2.4e-6,"y":2.19e5,"t":"Thermal Neutron"},{"x":2.4e-6,"y":6.7e4,"t":"Energy (0.0253 ev)"},{"x":3.41e-7,"y":1.82e-8,"t":"4 Orders of Magnitude"},{"x":3.41e-7,"y":6.32e-9,"t":"Difference at Thermal Energy"},{"x":0.319,"y":1.82e-8,"t":"Cross Sections Similar at Fast"},{"x":0.319,"y":6.32e-9,"t":"Energy Region"}]},
 "mark":{"type":"text","font":"Liberation Serif","fontSize":23,"color":"#1a1a1a","align":"center","baseline":"middle"},
 "encoding":{
  "x":{"field":"x","type":"quantitative","scale":{"type":"log","domain":[1e-9,19],"nice":false},"axis":null},
  "y":{"field":"y","type":"quantitative","scale":{"type":"log","domain":[1e-6,1e6],"nice":false},"axis":null},
  "text":{"field":"t"}
 }}
]
}
